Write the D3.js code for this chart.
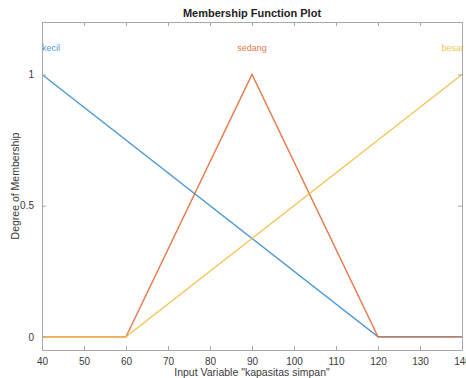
<!DOCTYPE html>
<html>
<head>
<meta charset="utf-8">
<script src="https://cdn.jsdelivr.net/npm/d3@7"></script>
<style>
	body { margin: 0; background: #fff; }
	svg { font-family: "Liberation Sans", Arial, sans-serif; }
</style>
</head>
<body>
<script>
// Membership functions of "kapasitas simpan"
const mfNames = ['kecil', 'sedang', 'besar'];
const kecilX = [40, 120, 140];
const kecilY = [1, 0, 0];
const sedangX = [40, 60, 90, 120, 140];
const sedangY = [0, 0, 1, 0, 0];
const besarX = [40, 60, 140];
const besarY = [0, 0, 1];
const xTicks = [40, 50, 60, 70, 80, 90, 100, 110, 120, 130, 140];
const yTicks = [0, 0.5, 1];
const labelAt = [40, 90, 140];

const W = 466, H = 378;
const margin = { top: 22, right: 4, bottom: 28, left: 42 };
const colors = ['#2a86cc', '#e0622a', '#f2bb3c'];

const svg = d3.select('body').append('svg')
	.attr('width', W)
	.attr('height', H);

const x = d3.scaleLinear().domain([40, 140]).range([margin.left, W - margin.right]);
const y = d3.scaleLinear().domain([-0.05, 1.2]).range([H - margin.bottom, margin.top]);

// Lines
const series = [
	kecilX.map((v, i) => [v, kecilY[i]]),
	sedangX.map((v, i) => [v, sedangY[i]]),
	besarX.map((v, i) => [v, besarY[i]])
];
const line = d3.line().x(d => x(d[0])).y(d => y(d[1]));

svg.selectAll('path.mf')
	.data(series)
.join('path')
	.attr('class', 'mf')
	.attr('d', line)
	.attr('fill', 'none')
	.attr('stroke', (d, i) => colors[i])
	.attr('stroke-opacity', 0.85)
	.attr('stroke-width', 1.4);

// MF labels
svg.selectAll('text.mflabel')
	.data(mfNames)
.join('text')
	.attr('class', 'mflabel')
	.attr('x', (d, i) => i == 2 ? x(labelAt[i]) + 2 : x(labelAt[i]))
	.attr('y', y(1.1) + 3)
	.attr('text-anchor', (d, i) => i == 0 ? 'start' : i == 2 ? 'end' : 'middle')
	.attr('font-size', 9)
	.attr('fill', (d, i) => colors[i])
	.attr('fill-opacity', 0.9)
	.text(d => d);

// Axes box
const axisColor = '#a8a8a8';
const textColor = '#3a3a3a';
const tickLen = 4;

const xAxis = svg.append('g')
	.attr('transform', 'translate(0,' + (H - margin.bottom) + ')')
	.call(d3.axisBottom(x).tickValues(xTicks).tickSizeInner(-tickLen).tickSizeOuter(0).tickPadding(8));
const xAxisTop = svg.append('g')
	.attr('transform', 'translate(0,' + margin.top + ')')
	.call(d3.axisTop(x).tickValues(xTicks).tickSizeInner(-tickLen).tickSizeOuter(0).tickFormat(''));
const yAxis = svg.append('g')
	.attr('transform', 'translate(' + margin.left + ',0)')
	.call(d3.axisLeft(y).tickValues(yTicks).tickSizeInner(-tickLen).tickSizeOuter(0).tickPadding(8).tickFormat(d3.format('')));
const yAxisRight = svg.append('g')
	.attr('transform', 'translate(' + (W - margin.right) + ',0)')
	.call(d3.axisRight(y).tickValues(yTicks).tickSizeInner(-tickLen).tickSizeOuter(0).tickFormat(''));

for (const g of [xAxis, xAxisTop, yAxis, yAxisRight]) {
	g.selectAll('path.domain').attr('stroke', axisColor);
	g.selectAll('line').attr('stroke', axisColor);
	g.selectAll('text').attr('fill', textColor).attr('font-size', 10).attr('font-family', null);
}

// Titles
svg.append('text')
	.attr('x', (margin.left + W - margin.right) / 2)
	.attr('y', 17)
	.attr('text-anchor', 'middle')
	.attr('font-size', 11)
	.attr('font-weight', 'bold')
	.attr('fill', '#222')
	.text('Membership Function Plot');

svg.append('text')
	.attr('x', (margin.left + W - margin.right) / 2)
	.attr('y', 376)
	.attr('text-anchor', 'middle')
	.attr('font-size', 10.5)
	.attr('fill', textColor)
	.text('Input Variable "kapasitas simpan"');

svg.append('text')
	.attr('transform', 'translate(19,' + ((margin.top + H - margin.bottom) / 2) + ') rotate(-90)')
	.attr('text-anchor', 'middle')
	.attr('font-size', 10.5)
	.attr('fill', textColor)
	.text('Degree of Membership');
</script>
</body>
</html>
